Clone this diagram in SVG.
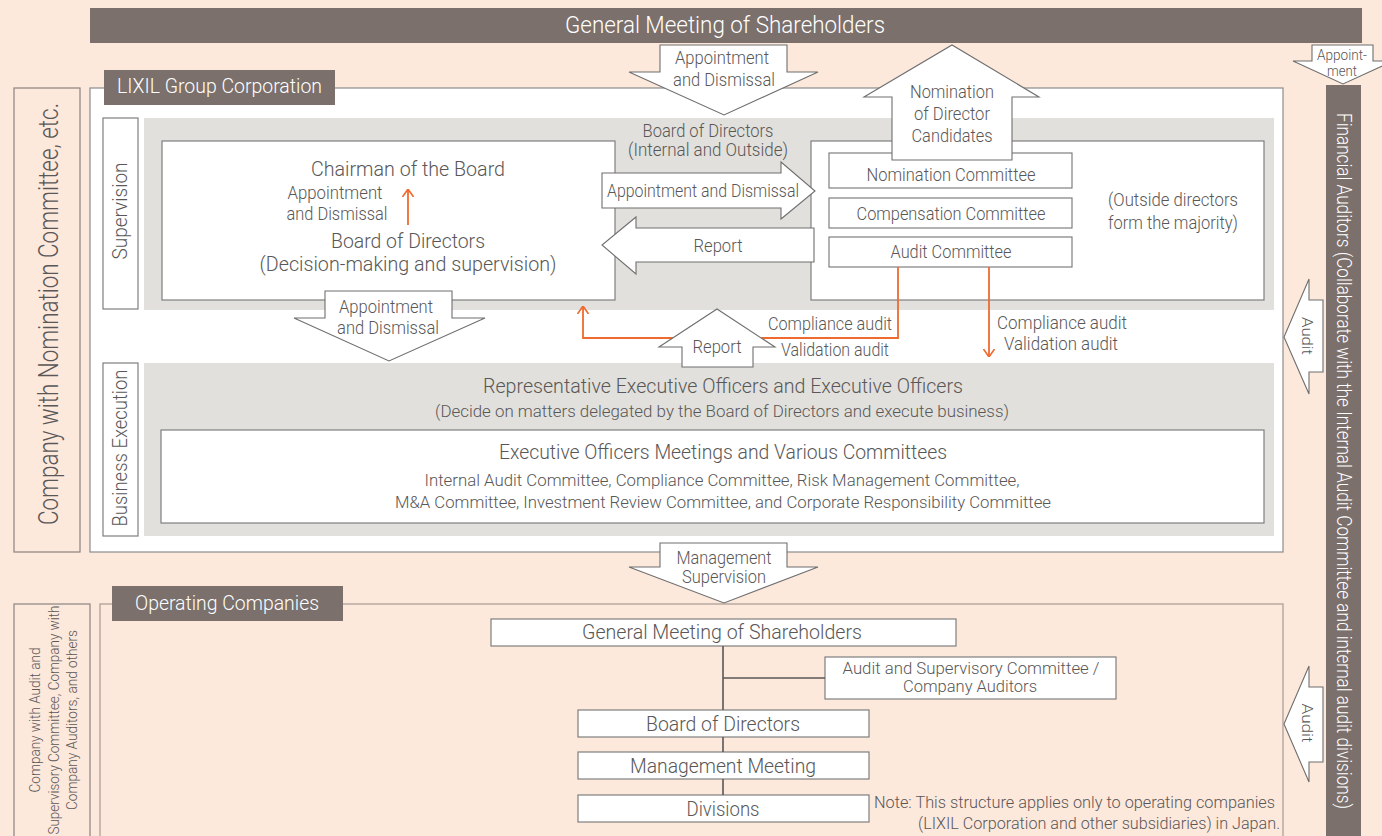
<svg xmlns="http://www.w3.org/2000/svg" width="1382" height="836" viewBox="0 0 1382 836">
  <style>
    .t { font-family: Roboto, "Liberation Sans", sans-serif; font-weight: 300; fill: #595757; }
    .w { fill: #ffffff; }
    .bar { fill: #7b706b; }
    .panel { fill: #e1e0dc; }
    .box { fill: #ffffff; stroke: #7f7f7f; stroke-width: 1.2; }
    .frame { fill: #ffffff; stroke: #8c8c8c; stroke-width: 1.2; }
    .side { fill: none; stroke: #8a8380; stroke-width: 1.2; }
    .op { fill: none; stroke: #b1a59e; stroke-width: 1.4; }
    .ba { fill: #ffffff; stroke: #6f6f6f; stroke-width: 1.1; }
    .or { fill: none; stroke: #ef6a2f; stroke-width: 1.8; }
    .ln { fill: none; stroke: #595757; stroke-width: 1.6; }
  </style>
  <defs>
    <marker id="ah" viewBox="0 0 8 12" refX="8" refY="6" markerWidth="8" markerHeight="12" markerUnits="userSpaceOnUse" orient="auto">
      <path d="M0,0.5 L8,6 L0,11.5" fill="none" stroke="#ef6a2f" stroke-width="1.6"/>
    </marker>
  </defs>

  <!-- page background -->
  <rect x="0" y="0" width="1382" height="836" fill="#fde8dc"/>

  <!-- shareholders bar -->
  <g id="gms-top">
    <rect class="bar" x="90" y="8" width="1272" height="35"/>
    <text class="t w" x="725" y="33" font-size="24" text-anchor="middle" textLength="320" lengthAdjust="spacingAndGlyphs">General Meeting of Shareholders</text>
  </g>

  <!-- left classification, holding company -->
  <g id="side-nomination">
    <rect class="side" x="14" y="88" width="66" height="464"/>
    <text class="t" transform="translate(58,314) rotate(-90)" font-size="27" text-anchor="middle" textLength="422" lengthAdjust="spacingAndGlyphs">Company with Nomination Committee, etc.</text>
  </g>

  <!-- holding company frame -->
  <g id="lixil-group">
    <rect class="frame" x="90" y="88" width="1193" height="464"/>
    <rect class="bar" x="104" y="70" width="231" height="35"/>
    <text class="t w" x="117" y="93" font-size="21" textLength="205" lengthAdjust="spacingAndGlyphs">LIXIL Group Corporation</text>
  </g>

  <!-- supervision tier -->
  <g id="supervision">
    <rect class="box" x="103" y="118" width="35" height="191"/>
    <text class="t" transform="translate(127,211) rotate(-90)" font-size="20" text-anchor="middle" textLength="97" lengthAdjust="spacingAndGlyphs">Supervision</text>
    <rect class="panel" x="144" y="118" width="1130" height="192"/>
    <text class="t" x="708" y="137" font-size="18" text-anchor="middle" textLength="131" lengthAdjust="spacingAndGlyphs">Board of Directors</text>
    <text class="t" x="708" y="156" font-size="18" text-anchor="middle" textLength="160" lengthAdjust="spacingAndGlyphs">(Internal and Outside)</text>
  </g>

  <g id="board">
    <rect class="box" x="162" y="141" width="453" height="159"/>
    <text class="t" x="408" y="176" font-size="21" text-anchor="middle" textLength="194" lengthAdjust="spacingAndGlyphs">Chairman of the Board</text>
    <text class="t" x="335" y="199" font-size="18" text-anchor="middle" textLength="95" lengthAdjust="spacingAndGlyphs">Appointment</text>
    <text class="t" x="337" y="220" font-size="18" text-anchor="middle" textLength="101" lengthAdjust="spacingAndGlyphs">and Dismissal</text>
    <text class="t" x="408" y="248" font-size="21" text-anchor="middle" textLength="154" lengthAdjust="spacingAndGlyphs">Board of Directors</text>
    <text class="t" x="408" y="271" font-size="21" text-anchor="middle" textLength="297" lengthAdjust="spacingAndGlyphs">(Decision-making and supervision)</text>
  </g>

  <g id="committees">
    <rect class="box" x="811" y="141" width="453" height="159"/>
    <text class="t" x="1173" y="206" font-size="18" text-anchor="middle" textLength="130" lengthAdjust="spacingAndGlyphs">(Outside directors</text>
    <text class="t" x="1173" y="229" font-size="18" text-anchor="middle" textLength="130" lengthAdjust="spacingAndGlyphs">form the majority)</text>
  </g>
  <g id="nomination-committee">
    <rect class="box" x="829" y="153" width="243" height="35"/>
    <text class="t" x="951" y="181" font-size="18" text-anchor="middle" textLength="169" lengthAdjust="spacingAndGlyphs">Nomination Committee</text>
  </g>
  <g id="compensation-committee">
    <rect class="box" x="829" y="198" width="243" height="30"/>
    <text class="t" x="951" y="220" font-size="18" text-anchor="middle" textLength="189" lengthAdjust="spacingAndGlyphs">Compensation Committee</text>
  </g>
  <g id="audit-committee">
    <rect class="box" x="829" y="237" width="243" height="30"/>
    <text class="t" x="951" y="258" font-size="18" text-anchor="middle" textLength="121" lengthAdjust="spacingAndGlyphs">Audit Committee</text>
  </g>

  <!-- business execution tier -->
  <g id="business-execution">
    <rect class="box" x="103" y="363" width="35" height="173"/>
    <text class="t" transform="translate(127,448) rotate(-90)" font-size="20" text-anchor="middle" textLength="157" lengthAdjust="spacingAndGlyphs">Business Execution</text>
    <rect class="panel" x="144" y="363" width="1130" height="173"/>
    <text class="t" x="723" y="393" font-size="20" text-anchor="middle" textLength="480" lengthAdjust="spacingAndGlyphs">Representative Executive Officers and Executive Officers</text>
    <text class="t" x="722" y="417" font-size="16.5" text-anchor="middle" textLength="574" lengthAdjust="spacingAndGlyphs">(Decide on matters delegated by the Board of Directors and execute business)</text>
  </g>
  <g id="exec-meetings">
    <rect class="box" x="161" y="430" width="1103" height="93"/>
    <text class="t" x="723" y="459" font-size="20" text-anchor="middle" textLength="448" lengthAdjust="spacingAndGlyphs">Executive Officers Meetings and Various Committees</text>
    <text class="t" x="722" y="486" font-size="17" text-anchor="middle" textLength="595" lengthAdjust="spacingAndGlyphs">Internal Audit Committee, Compliance Committee, Risk Management Committee,</text>
    <text class="t" x="723" y="508" font-size="17" text-anchor="middle" textLength="656" lengthAdjust="spacingAndGlyphs">M&amp;A Committee, Investment Review Committee, and Corporate Responsibility Committee</text>
  </g>

  <!-- financial auditors -->
  <g id="financial-auditors">
    <rect class="bar" x="1326" y="85" width="35" height="760"/>
    <text class="t w" transform="translate(1337,461) rotate(90)" font-size="21" text-anchor="middle" textLength="696" lengthAdjust="spacingAndGlyphs">Financial Auditors (Collaborate with the Internal Audit Committee and internal audit divisions)</text>
  </g>

  <!-- operating companies -->
  <g id="side-operating">
    <rect class="side" x="14" y="604" width="76" height="250"/>
    <text class="t" transform="translate(40,720) rotate(-90)" font-size="15" text-anchor="middle" textLength="145" lengthAdjust="spacingAndGlyphs">Company with Audit and</text>
    <text class="t" transform="translate(59,720) rotate(-90)" font-size="15" text-anchor="middle" textLength="229" lengthAdjust="spacingAndGlyphs">Supervisory Committee, Company with</text>
    <text class="t" transform="translate(77,720) rotate(-90)" font-size="15" text-anchor="middle" textLength="180" lengthAdjust="spacingAndGlyphs">Company Auditors, and others</text>
  </g>
  <g id="operating-companies">
    <rect class="op" x="100" y="604" width="1183" height="260"/>
    <rect class="bar" x="112" y="586" width="231" height="35"/>
    <text class="t w" x="135" y="610" font-size="20" textLength="184" lengthAdjust="spacingAndGlyphs">Operating Companies</text>
    <text class="t" x="874" y="808" font-size="16" textLength="401" lengthAdjust="spacingAndGlyphs">Note:  This structure applies only to operating companies</text>
    <text class="t" x="1280" y="829" font-size="16" text-anchor="end" textLength="362" lengthAdjust="spacingAndGlyphs">(LIXIL Corporation and other subsidiaries) in Japan.</text>
  </g>
  <g id="op-gms">
    <rect class="box" x="491" y="619" width="465" height="27"/>
    <text class="t" x="722" y="639" font-size="20" text-anchor="middle" textLength="280" lengthAdjust="spacingAndGlyphs">General Meeting of Shareholders</text>
  </g>
  <g id="op-auditors">
    <rect class="box" x="825" y="657" width="291" height="42"/>
    <text class="t" x="971" y="674" font-size="16" text-anchor="middle" textLength="257" lengthAdjust="spacingAndGlyphs">Audit and Supervisory Committee /</text>
    <text class="t" x="970" y="692" font-size="16" text-anchor="middle" textLength="134" lengthAdjust="spacingAndGlyphs">Company Auditors</text>
  </g>
  <g id="op-board">
    <rect class="box" x="578" y="710" width="291" height="27"/>
    <text class="t" x="723" y="731" font-size="20" text-anchor="middle" textLength="154" lengthAdjust="spacingAndGlyphs">Board of Directors</text>
  </g>
  <g id="op-management">
    <rect class="box" x="578" y="752" width="291" height="27"/>
    <text class="t" x="723" y="773" font-size="20" text-anchor="middle" textLength="186" lengthAdjust="spacingAndGlyphs">Management Meeting</text>
  </g>
  <g id="op-divisions">
    <rect class="box" x="578" y="795" width="291" height="27"/>
    <text class="t" x="723" y="816" font-size="20" text-anchor="middle" textLength="73" lengthAdjust="spacingAndGlyphs">Divisions</text>
  </g>

  <!-- connectors -->
  <g id="connectors">
    <!-- operating company tree -->
    <path class="ln" d="M723,646 V710 M723,678 H825 M723,737 V752 M723,779 V795"/>

    <!-- chairman appointment -->
    <path class="or" d="M408,225 V189" marker-end="url(#ah)"/>
    <!-- audit committee reports -->
    <path class="or" d="M898,267 V338 H583 V306" marker-end="url(#ah)"/>
    <path class="or" d="M989,267 V357" marker-end="url(#ah)"/>
    <text class="t" x="768" y="330" font-size="18" textLength="124" lengthAdjust="spacingAndGlyphs">Compliance audit</text>
    <text class="t" x="781" y="356" font-size="18" textLength="108" lengthAdjust="spacingAndGlyphs">Validation audit</text>
    <text class="t" x="1062" y="329" font-size="18" text-anchor="middle" textLength="130" lengthAdjust="spacingAndGlyphs">Compliance audit</text>
    <text class="t" x="1061" y="350" font-size="18" text-anchor="middle" textLength="114" lengthAdjust="spacingAndGlyphs">Validation audit</text>

    <!-- shareholders to board -->
    <path class="ba" d="M660,45 H787 V72 H818 L724,115 L629,72 H660 Z"/>
    <text class="t" x="722" y="64" font-size="18" text-anchor="middle" textLength="94" lengthAdjust="spacingAndGlyphs">Appointment</text>
    <text class="t" x="724" y="86" font-size="18" text-anchor="middle" textLength="102" lengthAdjust="spacingAndGlyphs">and Dismissal</text>

    <!-- nomination of director candidates -->
    <path class="ba" d="M892,160 V97 H864 L952,45 L1039,97 H1012 V160 Z"/>
    <text class="t" x="952" y="98" font-size="18" text-anchor="middle" textLength="84" lengthAdjust="spacingAndGlyphs">Nomination</text>
    <text class="t" x="952" y="120" font-size="18" text-anchor="middle" textLength="76" lengthAdjust="spacingAndGlyphs">of Director</text>
    <text class="t" x="952" y="142" font-size="18" text-anchor="middle" textLength="81" lengthAdjust="spacingAndGlyphs">Candidates</text>

    <!-- board to committees -->
    <path class="ba" d="M602,173 H781 V162 L815,191 L781,219 V208 H602 Z"/>
    <text class="t" x="703" y="197" font-size="18" text-anchor="middle" textLength="192" lengthAdjust="spacingAndGlyphs">Appointment and Dismissal</text>
    <path class="ba" d="M814,228 V262 H636 V274 L602,245 L636,217 V228 Z"/>
    <text class="t" x="718" y="252" font-size="18" text-anchor="middle" textLength="49" lengthAdjust="spacingAndGlyphs">Report</text>

    <!-- board to executive officers -->
    <path class="ba" d="M325,291 H452 V318 H485 L389,361 L294,318 H325 Z"/>
    <text class="t" x="386" y="313" font-size="18" text-anchor="middle" textLength="94" lengthAdjust="spacingAndGlyphs">Appointment</text>
    <text class="t" x="388" y="334" font-size="18" text-anchor="middle" textLength="102" lengthAdjust="spacingAndGlyphs">and Dismissal</text>
    <path class="ba" d="M682,367 V347 H659 L717,309 L775,347 H753 V367 Z"/>
    <text class="t" x="717" y="353" font-size="18" text-anchor="middle" textLength="49" lengthAdjust="spacingAndGlyphs">Report</text>

    <!-- holding company to operating companies -->
    <path class="ba" d="M660,543 H787 V567 H818 L724,603 L629,567 H660 Z"/>
    <text class="t" x="724" y="564" font-size="18" text-anchor="middle" textLength="95" lengthAdjust="spacingAndGlyphs">Management</text>
    <text class="t" x="724" y="583" font-size="18" text-anchor="middle" textLength="84" lengthAdjust="spacingAndGlyphs">Supervision</text>

    <!-- financial auditors -->
    <path class="ba" d="M1312,45 H1373 V61 H1393 L1343,84 L1293,61 H1312 Z"/>
    <text class="t" x="1342" y="60" font-size="14" text-anchor="middle" textLength="50" lengthAdjust="spacingAndGlyphs">Appoint-</text>
    <text class="t" x="1342" y="76" font-size="14" text-anchor="middle" textLength="30" lengthAdjust="spacingAndGlyphs">ment</text>
    <path class="ba" d="M1323,300 V372 H1309 V394 L1284,337 L1309,279 V300 Z"/>
    <text class="t" transform="translate(1302,336) rotate(90)" font-size="15" text-anchor="middle" textLength="38" lengthAdjust="spacingAndGlyphs">Audit</text>
    <path class="ba" d="M1323,687 V762 H1309 V782 L1284,724 L1309,666 V687 Z"/>
    <text class="t" transform="translate(1302,723) rotate(90)" font-size="15" text-anchor="middle" textLength="39" lengthAdjust="spacingAndGlyphs">Audit</text>
  </g>
</svg>
